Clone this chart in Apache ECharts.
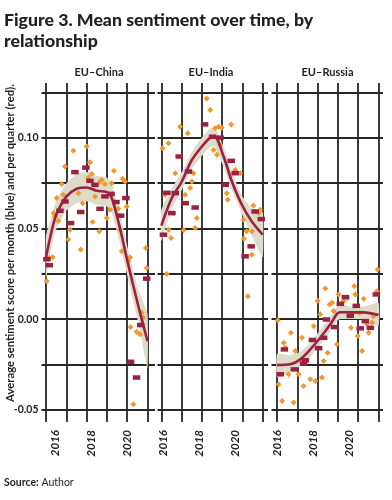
<!DOCTYPE html>
<html><head><meta charset="utf-8">
<script src="https://cdn.jsdelivr.net/npm/echarts@6/dist/echarts.min.js"></script>
<style>html,body{margin:0;padding:0;background:#fff}#c{width:392px;height:500px}</style>
</head><body><div id="c"></div>
<script>
// ---------- DATA ----------
const panelNames = ['EU\u2013China', 'EU\u2013India', 'EU\u2013Russia'];
const xTickLabels = [2016, 2018, 2020];
const yTickLabels = [-0.05, 0.00, 0.05, 0.10];

// EU-China
const chinaMonthly = [[2015.54,0.0209],[2015.68,0.0337],[2015.87,0.0341],[2015.91,0.0584],[2016.00,0.0566],[2016.09,0.0667],[2016.18,0.0542],[2016.37,0.0744],[2016.46,0.0685],[2016.55,0.0841],[2016.74,0.0438],[2016.83,0.0493],[2017.01,0.0927],[2017.29,0.0694],[2017.42,0.0383],[2017.53,0.0639],[2017.75,0.0951],[2017.84,0.0780],[2017.93,0.0864],[2018.03,0.0799],[2018.08,0.0535],[2018.21,0.0676],[2018.45,0.0484],[2018.49,0.0758],[2018.58,0.0767],[2018.76,0.0744],[2018.86,0.0557],[2019.04,0.0603],[2019.13,0.0749],[2019.26,0.0817],[2019.50,0.0608],[2019.59,0.0493],[2019.69,0.0374],[2019.74,0.0773],[2019.87,0.0758],[2019.96,0.0621],[2020.05,0.0319],[2020.15,0.0341],[2020.18,-0.0044],[2020.33,-0.0469],[2020.51,-0.0070],[2020.70,-0.0084],[2020.79,0.0035],[2020.88,0.0007],[2021.03,0.0392],[2021.07,0.0282]];
const chinaQuarterly = [[2015.55,0.0330],[2015.68,0.0297],[2016.27,0.0597],[2016.55,0.0648],[2016.86,0.0529],[2017.10,0.0810],[2017.42,0.0590],[2017.71,0.0835],[2017.93,0.0762],[2018.21,0.0740],[2018.49,0.0608],[2018.76,0.0676],[2019.10,0.0690],[2019.37,0.0645],[2019.63,0.0570],[2019.92,0.0667],[2020.18,-0.0235],[2020.51,-0.0322],[2020.74,-0.0033],[2021.07,0.0223]];
const chinaTrend = [[2015.50,0.0340],[2015.80,0.0480],[2016.09,0.0580],[2016.64,0.0676],[2017.20,0.0718],[2017.75,0.0725],[2018.30,0.0707],[2018.86,0.0700],[2019.13,0.0670],[2019.59,0.0502],[2020.05,0.0300],[2020.61,0.0071],[2021.115,-0.0122]];
const chinaBand = [[2015.50,0.022,0.046],[2015.80,0.040,0.056],[2016.09,0.050,0.066],[2016.64,0.060,0.075],[2017.20,0.064,0.080],[2017.75,0.065,0.081],[2018.30,0.063,0.079],[2018.86,0.062,0.078],[2019.13,0.059,0.075],[2019.59,0.042,0.058],[2020.05,0.022,0.038],[2020.61,-0.002,0.016],[2021.115,-0.027,0.003]];

// EU-India
const indiaMonthly = [[2015.96,0.0941],[2016.10,0.0685],[2016.19,0.0249],[2016.29,0.0969],[2016.30,0.0493],[2016.43,0.0447],[2016.56,0.0584],[2016.66,0.0804],[2016.93,0.1060],[2017.12,0.0489],[2017.21,0.0685],[2017.35,0.1024],[2017.48,0.0722],[2017.58,0.0758],[2017.67,0.0804],[2017.76,0.0502],[2017.85,0.0557],[2018.40,0.1216],[2018.59,0.1152],[2018.77,0.0932],[2018.86,0.1051],[2018.96,0.0905],[2019.05,0.1060],[2019.14,0.0960],[2019.23,0.1055],[2019.51,0.0694],[2019.56,0.0658],[2019.75,0.1073],[2019.97,0.0822],[2020.25,0.0804],[2020.43,0.0548],[2020.45,0.0443],[2020.61,0.0484],[2020.67,0.0126],[2020.89,0.0355],[2020.90,0.0484],[2020.98,0.0626],[2021.26,0.0584],[2021.35,0.0603]];
const indiaQuarterly = [[2016.01,0.0465],[2016.20,0.0696],[2016.47,0.0584],[2016.66,0.0694],[2016.88,0.0896],[2017.21,0.0639],[2017.39,0.0813],[2017.76,0.0615],[2018.28,0.1073],[2018.72,0.1005],[2019.14,0.1000],[2019.42,0.0740],[2019.75,0.0872],[2019.97,0.0804],[2020.52,0.0346],[2020.85,0.0401],[2021.07,0.0593],[2021.41,0.0551]];
const indiaTrend = [[2015.89,0.0515],[2016.47,0.0667],[2017.02,0.0758],[2017.58,0.0877],[2018.13,0.0951],[2018.59,0.1000],[2018.83,0.1005],[2019.33,0.0896],[2019.79,0.0758],[2020.34,0.0630],[2020.89,0.0538],[2021.49,0.0465]];
const indiaBand = [[2015.89,0.043,0.060],[2016.47,0.061,0.072],[2017.02,0.071,0.081],[2017.58,0.083,0.092],[2018.13,0.090,0.100],[2018.59,0.095,0.105],[2018.83,0.095,0.106],[2019.33,0.084,0.095],[2019.79,0.071,0.081],[2020.34,0.058,0.068],[2020.89,0.046,0.061],[2021.49,0.034,0.059]];

// EU-Russia
const russiaMonthly = [[2016.04,-0.0007],[2016.09,-0.0359],[2016.28,-0.0451],[2016.37,-0.0130],[2016.46,-0.0158],[2016.64,-0.0304],[2016.77,-0.0075],[2016.92,-0.0460],[2017.01,-0.0176],[2017.20,-0.0304],[2017.38,-0.0103],[2017.47,-0.0368],[2017.84,-0.0332],[2018.03,-0.0039],[2018.12,-0.0341],[2018.25,0.0101],[2018.39,0.0027],[2018.49,-0.0322],[2018.58,-0.0231],[2018.67,0.0168],[2018.80,-0.0185],[2018.91,0.0081],[2019.04,0.0090],[2019.13,0.0044],[2019.31,-0.0139],[2019.41,0.0136],[2019.68,0.0099],[2019.87,0.0117],[2020.09,-0.0048],[2020.27,0.0181],[2020.33,0.0136],[2020.46,-0.0093],[2020.57,0.0035],[2020.70,-0.0176],[2020.79,0.0112],[2020.97,-0.0026],[2021.06,-0.0075],[2021.25,-0.0020],[2021.34,0.0016],[2021.52,0.0154],[2021.56,0.0273]];
const russiaQuarterly = [[2016.18,-0.0304],[2016.41,-0.0167],[2016.96,-0.0277],[2017.47,-0.0245],[2017.57,-0.0227],[2017.96,-0.0115],[2018.30,-0.0160],[2018.58,-0.0103],[2018.73,-0.0002],[2019.19,-0.0044],[2019.50,0.0084],[2019.78,0.0121],[2020.05,0.0018],[2020.38,0.0073],[2020.60,-0.0051],[2020.88,-0.0011],[2021.16,-0.0048],[2021.49,0.0136]];
const russiaTrend = [[2016.00,-0.0253],[2016.74,-0.0249],[2017.29,-0.0222],[2017.84,-0.0167],[2018.39,-0.0103],[2018.95,-0.0029],[2019.31,0.0029],[2019.50,0.0038],[2020.05,0.0037],[2020.79,0.0037],[2021.61,0.0022]];
const russiaBand = [[2016.00,-0.032,-0.019],[2016.74,-0.029,-0.020],[2017.29,-0.026,-0.018],[2017.84,-0.021,-0.013],[2018.39,-0.014,-0.006],[2018.95,-0.007,0.001],[2019.31,-0.001,0.007],[2019.50,0.000,0.008],[2020.05,0.000,0.007],[2020.79,0.000,0.007],[2021.61,-0.004,0.009]];

// ---------- LAYOUT / STYLE ----------
const monthlySets = [chinaMonthly, indiaMonthly, russiaMonthly];
const quarterlySets = [chinaQuarterly, indiaQuarterly, russiaQuarterly];
const trendSets = [chinaTrend, indiaTrend, russiaTrend];
const bandSets = [chinaBand, indiaBand, russiaBand];

const panels = [
  {left:46, right:147.5, hl:41.5, hr:155, xmin:2015.5, xmax:2021.115, tx:99},
  {left:161.3, right:262.7, hl:157.5, hr:268, xmin:2015.89, xmax:2021.49, tx:211},
  {left:277, right:378.5, hl:271.5, hr:383, xmin:2016.0, xmax:2021.61, tx:327.5}
];
const FONT = 'Lato, "Noto Sans", sans-serif';
const GRID_COLOR = '#262626';
const ORANGE = '#f3972b';
const RED = '#9e1f3f';
const BAND = '#dcdccb';
const Y_TOP = 83, Y_BOT = 422;           // data grid (vertical lines extent)
const YMIN = -0.0567, YMAX = 0.1301;
const HB_TOP = 92.25, HB_BOT = 410;       // horizontal-line grid

const grids = [], xAxes = [], yAxes = [], series = [];
panels.forEach((p, i) => {
  grids[i] = {left:p.left, top:Y_TOP, width:p.right-p.left, height:Y_BOT-Y_TOP, containLabel:false, outerBoundsMode:'none'};
  grids[3+i] = {left:p.hl, top:HB_TOP, width:p.hr-p.hl, height:HB_BOT-HB_TOP, containLabel:false, outerBoundsMode:'none'};
});
panels.forEach((p, i) => {
  xAxes[i] = {gridIndex:i, type:'value', min:p.xmin, max:p.xmax, position:'bottom',
    axisLine:{show:false}, axisTick:{show:false}, splitLine:{show:false},
    axisLabel:{customValues:xTickLabels, rotate:90, margin:8, fontSize:11.5, fontWeight:'bold', fontStyle:'italic',
      color:'#222', fontFamily:FONT, formatter: v => String(Math.round(v))}};
  xAxes[3+i] = {gridIndex:i, type:'value', min:0, max:5, interval:1, position:'top',
    axisLine:{show:false}, axisTick:{show:false}, axisLabel:{show:false},
    splitLine:{show:true, lineStyle:{color:GRID_COLOR, width:1.8}}};
  xAxes[6+i] = {gridIndex:3+i, type:'value', min:0, max:1, show:false};
});
panels.forEach((p, i) => {
  yAxes[i] = {gridIndex:i, type:'value', min:YMIN, max:YMAX, show:false};
  yAxes[3+i] = {gridIndex:3+i, type:'value', min:-0.05, max:0.125, interval:0.025,
    axisLine:{show:false}, axisTick:{show:false},
    splitLine:{show:true, lineStyle:{color:GRID_COLOR, width:1.8}},
    axisLabel:{show:i===0, customValues:yTickLabels, margin:3, fontSize:10.5, fontWeight:'bold', color:'#222', fontFamily:FONT,
      formatter: v => (Math.abs(v) < 1e-9 ? 0 : v).toFixed(2)}};
});
panels.forEach((p, i) => {
  const band = bandSets[i];
  series.push({
    type:'custom', xAxisIndex:i, yAxisIndex:i, silent:true, z:1,
    data: band,
    renderItem: (params, api) => {
      if (params.dataIndex !== 0) return null;
      const up = band.map(r => api.coord([r[0], r[2]]));
      const lo = band.map(r => api.coord([r[0], r[1]])).reverse();
      return {type:'polygon', shape:{points: up.concat(lo), smooth:0.12}, style:{fill:BAND}};
    }
  });
  series.push({type:'scatter', xAxisIndex:i, yAxisIndex:i, data:monthlySets[i], symbol:'diamond', symbolSize:6,
    itemStyle:{color:ORANGE, opacity:1}, silent:true, z:3});
  series.push({type:'line', xAxisIndex:i, yAxisIndex:i, data:trendSets[i], smooth:0.3, showSymbol:false, symbol:'none',
    lineStyle:{color:RED, width:2.6}, silent:true, z:4});
  series.push({type:'scatter', xAxisIndex:i, yAxisIndex:i, data:quarterlySets[i], symbol:'rect', symbolSize:[7.5,4.5],
    itemStyle:{color:RED, opacity:1}, silent:true, z:5});
});

const graphics = [
  {type:'text', x:4, y:20.5, style:{text:'Figure 3. Mean sentiment over time, by', fill:'#231f20',
    font:'900 17.7px ' + FONT, verticalAlign:'middle', align:'left'}},
  {type:'text', x:4, y:41, style:{text:'relationship', fill:'#231f20',
    font:'900 17.7px ' + FONT, verticalAlign:'middle', align:'left'}},
  {type:'text', x:10, y:243, rotation:Math.PI/2,
    style:{text:'Average sentiment score per month (blue) and per quarter (red).', fill:'#231f20',
      font:'bold 11.3px ' + FONT, align:'center', verticalAlign:'middle'}},
  {type:'text', x:4, y:483, style:{text:'{b|Source:} Author', fill:'#231f20', font:'10.5px ' + FONT,
    rich:{b:{fontWeight:'bold', fontSize:10.5, fontFamily:FONT, fill:'#231f20'}}, verticalAlign:'middle', align:'left'}}
];
panels.forEach((p, i) => {
  graphics.push({type:'text', x:p.tx, y:72, style:{text:panelNames[i], fill:'#231f20', font:'bold 11px ' + FONT,
    align:'center', verticalAlign:'middle'}});
});

const chart = echarts.init(document.getElementById('c'), null, {renderer:'canvas'});
chart.setOption({
  animation:false,
  backgroundColor:'#ffffff',
  grid: grids, xAxis: xAxes, yAxis: yAxes, series: series, graphic: graphics
});
</script></body></html>
